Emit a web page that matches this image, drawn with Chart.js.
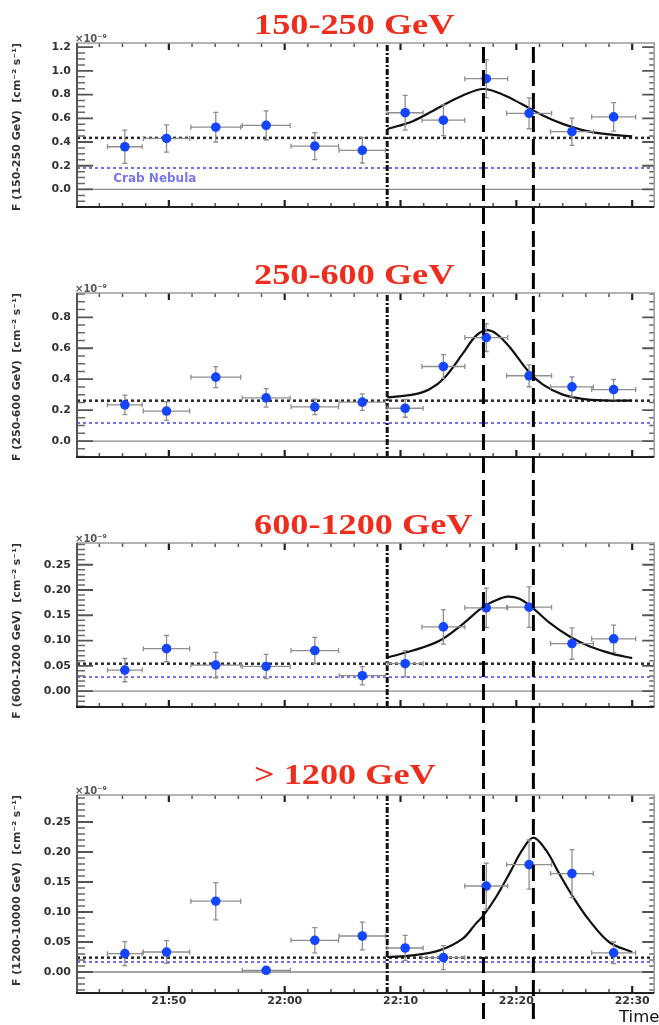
<!DOCTYPE html>
<html>
<head>
  <title>Flare light curves</title>
  <script src="https://cdn.jsdelivr.net/npm/chart.js"></script>
  <style>
    body {
      margin: 0;
      background: #fff;
    }
    .panel {
      position: relative;
      width: 659px;
    }
  </style>
</head>
<body>
  <div class="panel" style="height:250px"><canvas id="p1"></canvas></div>
  <div class="panel" style="height:250px"><canvas id="p2"></canvas></div>
  <div class="panel" style="height:250px"><canvas id="p3"></canvas></div>
  <div class="panel" style="height:275px"><canvas id="p4"></canvas></div>

  <script>
    // time in minutes after 21:00, bin half widths in minutes
    var binTime = [46.2, 49.8, 54.05, 58.4, 62.6, 66.7, 70.4, 73.7, 77.4, 81.1, 84.8, 88.4];
    var binHalfWidth = [1.5, 2.0, 2.15, 2.07, 2.05, 2.0, 1.55, 1.85, 1.85, 1.94, 1.85, 1.9];

    var xTickValues = [50, 60, 70, 80, 90];
    var xTickLabels = ["21:50", "22:00", "22:10", "22:20", "22:30"];

    // 150-250 GeV
    var flux150 = [0.36, 0.43, 0.525, 0.54, 0.365, 0.33, 0.647, 0.584, 0.934, 0.642, 0.487, 0.612];
    var err150 = [0.14, 0.115, 0.125, 0.123, 0.113, 0.107, 0.147, 0.13, 0.16, 0.13, 0.115, 0.12];
    var fitTime150 = [68.85, 71.06, 73.36, 75.37, 77.16, 78.8, 80.5, 82.3, 84.0, 86.0, 88.0, 90.0];
    var fit150 = [0.51, 0.576, 0.694, 0.793, 0.847, 0.80, 0.718, 0.624, 0.553, 0.494, 0.464, 0.447];

    // 250-600 GeV
    var flux250 = [0.234, 0.194, 0.413, 0.279, 0.221, 0.252, 0.212, 0.482, 0.669, 0.422, 0.35, 0.333];
    var err250 = [0.063, 0.06, 0.068, 0.06, 0.05, 0.053, 0.058, 0.077, 0.09, 0.071, 0.065, 0.065];
    var fitTime250 = [68.85, 71.06, 72.5, 73.8, 75.37, 76.5, 77.4, 78.25, 79.4, 81.1, 82.3, 84.0, 85.7, 87.4, 90.0];
    var fit250 = [0.282, 0.30, 0.335, 0.41, 0.565, 0.68, 0.716, 0.695, 0.61, 0.445, 0.365, 0.30, 0.273, 0.263, 0.261];

    // 600-1200 GeV
    var flux600 = [0.0415, 0.084, 0.0514, 0.0487, 0.0802, 0.0304, 0.0542, 0.127, 0.1648, 0.166, 0.094, 0.1034];
    var err600 = [0.023, 0.026, 0.025, 0.024, 0.026, 0.018, 0.026, 0.034, 0.039, 0.04, 0.031, 0.027];
    var fitTime600 = [68.85, 71.06, 73.36, 75.37, 77.1, 78.25, 79.25, 80.26, 81.4, 82.85, 84.6, 86.3, 88.3, 90.0];
    var fit600 = [0.0664, 0.0802, 0.0996, 0.1327, 0.166, 0.1798, 0.187, 0.1825, 0.1648, 0.1355, 0.1079, 0.0885, 0.0736, 0.0653];

    // > 1200 GeV
    var flux1200 = [0.0306, 0.0333, 0.118, 0.0028, 0.0528, 0.06, 0.04, 0.0239, 0.1433, 0.179, 0.164, 0.032];
    var err1200 = [0.02, 0.019, 0.031, 0.0, 0.021, 0.023, 0.021, 0.02, 0.038, 0.041, 0.04, 0.018];
    var fitTime1200 = [68.85, 71.06, 73.36, 75.37, 76.5, 77.16, 78.25, 79.4, 80.5, 81.47, 82.56, 83.7, 84.9, 86.3, 88.0, 90.0];
    var fit1200 = [0.025, 0.0278, 0.036, 0.0556, 0.0806, 0.0944, 0.125, 0.164, 0.203, 0.224, 0.203, 0.164, 0.125, 0.086, 0.05, 0.033];

    var baseline = [0.435, 0.261, 0.0542, 0.0239];
    var crabFlux = [0.181, 0.117, 0.0277, 0.0167];

    var panelTitles = ["150-250 GeV", "250-600 GeV", "600-1200 GeV", "> 1200 GeV"];
    var yTitles = [
      "F (150-250 GeV)  [cm\u207B\u00B2 s\u207B\u00B9]",
      "F (250-600 GeV)  [cm\u207B\u00B2 s\u207B\u00B9]",
      "F (600-1200 GeV)  [cm\u207B\u00B2 s\u207B\u00B9]",
      "F (1200-10000 GeV)  [cm\u207B\u00B2 s\u207B\u00B9]"
    ];
    var yTicks1 = [0, 0.2, 0.4, 0.6, 0.8, 1.0, 1.2];
    var yTicks2 = [0, 0.2, 0.4, 0.6, 0.8];
    var yTicks3 = [0, 0.05, 0.1, 0.15, 0.2, 0.25];

    var xMin = 42.07, xMax = 91.9;
    var startTime = 68.85;           // dash-dot line
    var flareTimes = [77.16, 81.47]; // long dashed lines through all panels
    var crabLabel = {x: 45.2, y: 0.09, text: "Crab Nebula"};

    var tickFont = {family: "DejaVu Sans", size: 11, weight: "bold"};

    function flat(v) {
      return [{x: xMin, y: v}, {x: xMax, y: v}];
    }
    function pairs(xs, ys) {
      return xs.map(function (x, i) { return {x: x, y: ys[i]}; });
    }

    function makePanel(id, p) {
      var ctxEl = document.getElementById(id);
      var last = p.showTime;

      var panelDecor = {
        id: "panelDecor",
        beforeDatasetDraw: function (chart, args) {
          if (args.index !== 0) return;
          // error bars, under the points
          var xs = chart.scales.x, ys = chart.scales.y, ctx = chart.ctx;
          ctx.save();
          ctx.strokeStyle = "#8e8e8e";
          ctx.lineWidth = 1.3;
          ctx.beginPath();
          for (var i = 0; i < binTime.length; i++) {
            var px = xs.getPixelForValue(binTime[i]);
            var py = ys.getPixelForValue(p.flux[i]);
            var x0 = xs.getPixelForValue(binTime[i] - binHalfWidth[i]);
            var x1 = xs.getPixelForValue(binTime[i] + binHalfWidth[i]);
            ctx.moveTo(x0, py); ctx.lineTo(x1, py);
            ctx.moveTo(x0, py - 2.5); ctx.lineTo(x0, py + 2.5);
            ctx.moveTo(x1, py - 2.5); ctx.lineTo(x1, py + 2.5);
            if (p.err[i] > 0) {
              var y0 = ys.getPixelForValue(p.flux[i] - p.err[i]);
              var y1 = ys.getPixelForValue(p.flux[i] + p.err[i]);
              ctx.moveTo(px, y0); ctx.lineTo(px, y1);
              ctx.moveTo(px - 2.5, y0); ctx.lineTo(px + 2.5, y0);
              ctx.moveTo(px - 2.5, y1); ctx.lineTo(px + 2.5, y1);
            }
          }
          ctx.stroke();
          ctx.restore();
        },
        afterDraw: function (chart) {
          var ctx = chart.ctx, a = chart.chartArea;
          var xs = chart.scales.x, ys = chart.scales.y;
          ctx.save();
          ctx.setLineDash([]);

          // x ticks, top and bottom, pointing in
          for (var t = 44; t <= xMax; t += 2) {
            var tx = xs.getPixelForValue(t);
            var major = (t % 10 === 0);
            var len = major ? 7 : 4;
            ctx.strokeStyle = major ? "#222" : "#555";
            ctx.lineWidth = major ? 2.2 : 1.5;
            ctx.beginPath();
            ctx.moveTo(tx, a.bottom); ctx.lineTo(tx, a.bottom - len);
            ctx.moveTo(tx, a.top); ctx.lineTo(tx, a.top + len);
            ctx.stroke();
          }

          // y ticks, left and right
          var start = Math.ceil(p.yMin / p.minorStep) * p.minorStep;
          for (var v = start; v <= p.yMax + 1e-9; v += p.minorStep) {
            var ty = ys.getPixelForValue(v);
            var ratio = v / p.majorStep;
            var isMajor = Math.abs(ratio - Math.round(ratio)) < 1e-6;
            ctx.strokeStyle = isMajor ? "#555" : "#6a6a6a";
            ctx.lineWidth = isMajor ? 1.8 : 1.5;
            ctx.beginPath();
            ctx.moveTo(a.left, ty); ctx.lineTo(a.left + (isMajor ? 16 : 8), ty);
            ctx.moveTo(a.right, ty); ctx.lineTo(a.right - (isMajor ? 12 : 5), ty);
            ctx.stroke();
          }

          // frame
          ctx.lineWidth = 1.5;
          ctx.strokeStyle = "#9a9a9a";
          ctx.beginPath();
          ctx.moveTo(a.left, a.top); ctx.lineTo(a.right, a.top); ctx.lineTo(a.right, a.bottom);
          ctx.stroke();
          ctx.lineWidth = 2;
          ctx.strokeStyle = "#555";
          ctx.beginPath();
          ctx.moveTo(a.left, a.top); ctx.lineTo(a.left, a.bottom);
          ctx.stroke();
          ctx.strokeStyle = "#222";
          ctx.beginPath();
          ctx.moveTo(a.left - 1, a.bottom); ctx.lineTo(a.right, a.bottom);
          ctx.stroke();

          // exponent
          ctx.fillStyle = "#555";
          ctx.font = "bold 10px 'DejaVu Sans'";
          ctx.textBaseline = "alphabetic";
          ctx.textAlign = "left";
          ctx.fillText("\u00D710\u207B\u2079", a.left - 2, a.top - 1);

          // panel title, red serif, slightly widened
          ctx.fillStyle = "#ee2d1d";
          ctx.font = "bold 29px 'Liberation Serif'";
          ctx.translate(254, 34);
          ctx.scale(1.25, 1);
          ctx.fillText(p.title, 0, 0);
          ctx.setTransform(1, 0, 0, 1, 0, 0);

          if (p.crab) {
            ctx.fillStyle = "#7777ea";
            ctx.font = "bold 12px 'DejaVu Sans'";
            ctx.textBaseline = "middle";
            ctx.fillText(crabLabel.text, xs.getPixelForValue(crabLabel.x), ys.getPixelForValue(crabLabel.y));
          }

          if (last) {
            ctx.fillStyle = "#111";
            ctx.font = "16.5px 'DejaVu Sans'";
            ctx.textBaseline = "alphabetic";
            ctx.fillText("Time", 619, chart.height - 3);
          }

          // flare markers crossing every panel
          ctx.strokeStyle = "#000";
          ctx.lineWidth = 3;
          ctx.setLineDash([16, 7]);
          flareTimes.forEach(function (ft) {
            var fx = xs.getPixelForValue(ft);
            ctx.beginPath();
            ctx.moveTo(fx, p.dashTop);
            ctx.lineTo(fx, chart.height);
            ctx.stroke();
          });
          ctx.restore();
        }
      };

      return new Chart(ctxEl, {
        type: "scatter",
        data: {
          datasets: [
            {
              data: pairs(binTime, p.flux),
              backgroundColor: "#1445ff",
              borderWidth: 0,
              pointRadius: 4.8
            },
            {
              data: pairs(p.fitTime, p.fit),
              showLine: true,
              tension: 0.35,
              borderColor: "#111",
              borderWidth: 2.2,
              pointRadius: 0
            },
            {
              data: [{x: startTime, y: p.yMin}, {x: startTime, y: p.yMax}],
              showLine: true,
              borderColor: "#111",
              borderWidth: 3,
              borderDash: [6, 2, 2, 2],
              pointRadius: 0
            },
            {
              data: flat(p.base),
              showLine: true,
              borderColor: "#2a2a2a",
              borderWidth: 2.5,
              borderDash: [3, 3],
              pointRadius: 0
            },
            {
              data: flat(p.crabLine),
              showLine: true,
              borderColor: "#6f6ff0",
              borderWidth: 2,
              borderDash: [3, 3],
              pointRadius: 0
            },
            {
              data: flat(0),
              showLine: true,
              borderColor: "#8a8a8a",
              borderWidth: 1.3,
              pointRadius: 0
            }
          ]
        },
        options: {
          responsive: true,
          maintainAspectRatio: false,
          animation: false,
          layout: {
            padding: {top: p.padTop, right: 4, bottom: last ? 0 : 11, left: 0}
          },
          plugins: {
            legend: {display: false},
            tooltip: {enabled: false}
          },
          scales: {
            x: {
              type: "linear",
              min: xMin,
              max: xMax,
              display: last,
              grid: {display: false, drawTicks: false},
              border: {display: false},
              afterBuildTicks: function (scale) {
                scale.ticks = xTickValues.map(function (v) { return {value: v}; });
              },
              afterFit: function (scale) {
                scale.height = 32;
              },
              ticks: {
                font: tickFont,
                color: "#333",
                padding: 2,
                maxRotation: 0,
                autoSkip: false,
                callback: function (value, index) {
                  return xTickLabels[index];
                }
              }
            },
            y: {
              type: "linear",
              min: p.yMin,
              max: p.yMax,
              grid: {display: false, drawTicks: false},
              border: {display: false},
              afterBuildTicks: function (scale) {
                scale.ticks = p.yTicks.map(function (v) { return {value: v}; });
              },
              afterFit: function (scale) {
                scale.width = 77;
              },
              ticks: {
                font: tickFont,
                color: "#333",
                padding: 6,
                autoSkip: false,
                callback: function (value) {
                  return value.toFixed(p.decimals);
                }
              },
              title: {
                display: true,
                text: p.yTitle,
                align: "end",
                color: "#333",
                font: {family: "DejaVu Sans", size: 11, weight: "bold"},
                padding: {top: 11, bottom: 0}
              }
            }
          }
        },
        plugins: [panelDecor]
      });
    }

    makePanel("p1", {
      title: panelTitles[0], yTitle: yTitles[0],
      flux: flux150, err: err150, fitTime: fitTime150, fit: fit150,
      base: baseline[0], crabLine: crabFlux[0], crab: true,
      yMin: -0.148, yMax: 1.235, yTicks: yTicks1, decimals: 1,
      majorStep: 0.2, minorStep: 0.05, padTop: 43, dashTop: 47, showTime: false
    });
    makePanel("p2", {
      title: panelTitles[1], yTitle: yTitles[1],
      flux: flux250, err: err250, fitTime: fitTime250, fit: fit250,
      base: baseline[1], crabLine: crabFlux[1], crab: false,
      yMin: -0.103, yMax: 0.957, yTicks: yTicks2, decimals: 1,
      majorStep: 0.2, minorStep: 0.05, padTop: 43, dashTop: 0, showTime: false
    });
    makePanel("p3", {
      title: panelTitles[2], yTitle: yTitles[2],
      flux: flux600, err: err600, fitTime: fitTime600, fit: fit600,
      base: baseline[2], crabLine: crabFlux[2], crab: false,
      yMin: -0.0315, yMax: 0.293, yTicks: yTicks3, decimals: 2,
      majorStep: 0.05, minorStep: 0.01, padTop: 43, dashTop: 0, showTime: false
    });
    makePanel("p4", {
      title: panelTitles[3], yTitle: yTitles[3],
      flux: flux1200, err: err1200, fitTime: fitTime1200, fit: fit1200,
      base: baseline[3], crabLine: crabFlux[3], crab: false,
      yMin: -0.035, yMax: 0.295, yTicks: yTicks3, decimals: 2,
      majorStep: 0.05, minorStep: 0.01, padTop: 45, dashTop: 0, showTime: true
    });
  </script>
</body>
</html>
